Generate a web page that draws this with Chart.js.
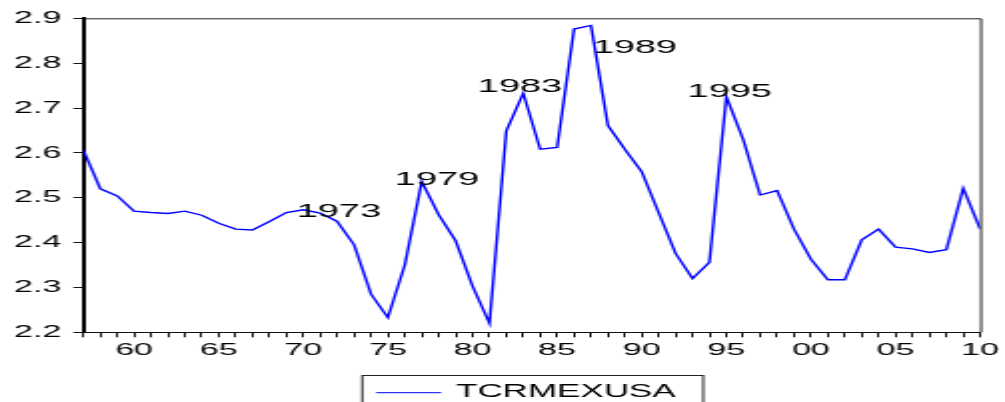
<!DOCTYPE html>
<html>
<head>
<meta charset="utf-8">
<script src="https://cdn.jsdelivr.net/npm/chart.js@4/dist/chart.umd.min.js"></script>
<style>
  html, body { margin: 0; padding: 0; background: #fff; overflow: hidden; }
  /* chart is drawn narrow and widened horizontally */
  #wrap { position: absolute; left: 0; top: 0; width: 503px; height: 402px;
          transform: scaleX(1.998); transform-origin: 0 0; }
</style>
</head>
<body>
<div id="wrap"><canvas id="tcr" width="503" height="402"></canvas></div>
<script>
// Real exchange rate Mexico / USA (log), annual
const years = [];
for (let y = 1957; y <= 2010; y++) years.push(y);

const tcrValues = [
  2.606, 2.520, 2.504, 2.470, 2.467, 2.465, 2.470, 2.461, 2.443, 2.430,
  2.428, 2.447, 2.467, 2.473, 2.466, 2.447, 2.395, 2.285, 2.233, 2.350,
  2.536, 2.462, 2.404, 2.303, 2.220, 2.649, 2.733, 2.608, 2.612, 2.876,
  2.884, 2.661, 2.608, 2.558, 2.467, 2.376, 2.320, 2.356, 2.725, 2.629,
  2.506, 2.516, 2.430, 2.363, 2.317, 2.317, 2.406, 2.430, 2.390, 2.386,
  2.378, 2.384, 2.521, 2.430
];

const seriesName = "TCRMEXUSA";

// year labels written on the plot (text centre in data units, baseline value)
const noteText = ["1973", "1979", "1983", "1989", "1995"];
const noteX = [1972.1, 1977.9, 1982.8, 1989.6, 1995.2];
const noteY = [2.456, 2.528, 2.736, 2.822, 2.724];

const yTicks = [2.2, 2.3, 2.4, 2.5, 2.6, 2.7, 2.8, 2.9];

const FONT = "'Liberation Sans', Arial, sans-serif";

// top/right frame lines, notes and the boxed legend
const extras = {
  id: "extras",
  afterDatasetsDraw(chart) {
    const { ctx, chartArea: a, scales } = chart;
    ctx.save();
    ctx.strokeStyle = "#222";
    ctx.lineWidth = 1;
    ctx.beginPath();
    ctx.moveTo(a.left, a.top + 0.5);
    ctx.lineTo(a.right + 0.5, a.top + 0.5);
    ctx.lineTo(a.right + 0.5, a.bottom);
    ctx.stroke();

    ctx.fillStyle = "#000";
    ctx.font = "19px " + FONT;
    ctx.textAlign = "center";
    ctx.textBaseline = "alphabetic";
    noteText.forEach((t, i) => {
      ctx.fillText(t, scales.x.getPixelForValue(noteX[i]), scales.y.getPixelForValue(noteY[i]));
    });

    // legend
    const boxW = 170.7;
    const bx = (a.left + a.right) / 2 - boxW / 2;
    const by = 375;
    ctx.strokeStyle = "#222";
    ctx.strokeRect(bx + 0.5, by + 0.5, boxW, 40);
    ctx.strokeStyle = chart.data.datasets[0].borderColor;
    ctx.beginPath();
    ctx.moveTo(bx + 7.5, 392.7);
    ctx.lineTo(bx + 40, 392.7);
    ctx.stroke();
    ctx.font = "17.5px " + FONT;
    ctx.textAlign = "left";
    ctx.fillText(chart.data.datasets[0].label, bx + 47.5, 396.7);
    ctx.restore();
  }
};

new Chart(document.getElementById("tcr"), {
  type: "line",
  data: {
    datasets: [{
      label: seriesName,
      data: years.map((y, i) => ({ x: y, y: tcrValues[i] })),
      borderColor: "#0000ff",
      borderWidth: 1.4,
      pointRadius: 0,
      tension: 0,
      fill: false
    }]
  },
  options: {
    responsive: false,
    animation: false,
    events: [],
    layout: { padding: { left: 0, right: 11.9, top: 18.3, bottom: 39.7 } },
    plugins: { legend: { display: false }, tooltip: { enabled: false } },
    scales: {
      x: {
        type: "linear",
        min: 1957,
        max: 2010,
        afterFit(s) { s.height = 30; },
        border: { color: "#111", width: 1 },
        grid: { drawOnChartArea: false, drawTicks: true, tickLength: 5, color: "#111" },
        ticks: {
          stepSize: 1,
          autoSkip: false,
          maxRotation: 0,
          padding: 3,
          color: "#000",
          font: { family: FONT, size: 17 },
          callback: v => (v % 5 === 0 ? String(v % 100).padStart(2, "0") : "")
        }
      },
      y: {
        min: 2.2,
        max: 2.9,
        afterFit(s) { s.width = 41.7; },
        afterBuildTicks(s) { s.ticks = yTicks.map(v => ({ value: v })); },
        border: { color: "#000", width: 2 },
        grid: { drawOnChartArea: false, drawTicks: true, tickLength: 5, color: "#111" },
        ticks: {
          padding: 6,
          color: "#000",
          font: { family: FONT, size: 17 },
          callback: v => v.toFixed(1)
        }
      }
    }
  },
  plugins: [extras]
});
</script>
</body>
</html>
